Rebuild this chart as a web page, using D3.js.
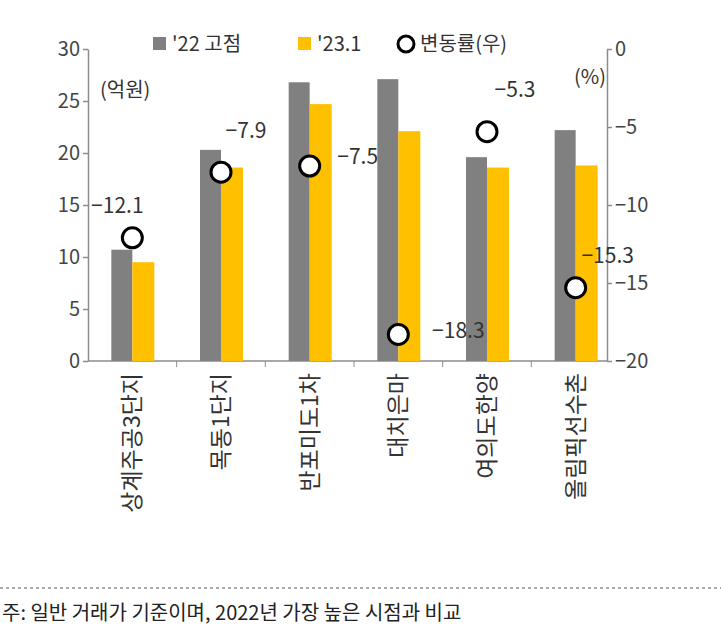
<!DOCTYPE html>
<html><head><meta charset="utf-8">
<script src="https://cdn.jsdelivr.net/npm/d3@7"></script>
<style>body{margin:0;background:#fff}text{font-family:"Noto Sans CJK KR","Noto Sans",sans-serif}</style>
</head><body><div class="root"></div>
<script>
const categories = ['상계주공3단지', '목동1단지', '반포미도1차', '대치은마', '여의도한양', '올림픽선수촌']
const peak22 = [10.7, 20.3, 26.8, 27.1, 19.6, 22.2]
const jan23 = [9.5, 18.6, 24.7, 22.1, 18.6, 18.8]
const changeRate = [-12.1, -7.9, -7.5, -18.3, -5.3, -15.3]
const leftTicks = [0, 5, 10, 15, 20, 25, 30]
const rightTicks = [0, -5, -10, -15, -20]
// label offsets (dx, dy) from each circle
const labelOffsets = [[-15, -30], [25, -40], [48, -8], [60, -2], [28, -40], [32, -30]]

const svg = d3.select('.root').append('svg').attr('width', 721).attr('height', 634)
const x = d3.scaleBand().domain(categories).range([88, 620])
const yL = d3.scaleLinear().domain([0, 30]).range([361, 49])
const yR = d3.scaleLinear().domain([-20, 0]).range([361, 49])
const grey = '#808080', gold = '#ffc000', axisCol = '#8c8c8c'
const barW = 21

const styleAxis = g => {
  g.selectAll('path,line').attr('stroke', axisCol).attr('stroke-width', 1.5)
  g.selectAll('text').attr('fill', '#444').attr('font-size', 20)
}

svg.append('g').attr('transform', 'translate(88,0)')
  .call(d3.axisLeft(yL).tickValues(leftTicks).tickSize(5).tickSizeOuter(0)).call(styleAxis)
svg.append('g').attr('transform', 'translate(607,0)')
  .call(d3.axisRight(yR).tickValues(rightTicks).tickSize(5).tickSizeOuter(0)
    .tickFormat(d => d === 0 ? '0' : '\u2212' + Math.abs(d))).call(styleAxis)
svg.append('line').attr('x1', 88).attr('x2', 607).attr('y1', 361).attr('y2', 361)
  .attr('stroke', axisCol).attr('stroke-width', 1.5)
// category tick marks between bands
svg.append('g').selectAll('line').data(categories.slice(1)).join('line')
  .attr('x1', d => x(d)).attr('x2', d => x(d)).attr('y1', 361).attr('y2', 367).attr('stroke', axisCol)

const cx = d => x(d) + x.bandwidth() / 2
svg.append('g').selectAll('rect').data(categories).join('rect')
  .attr('x', d => cx(d) - barW).attr('width', barW)
  .attr('y', (d, i) => yL(peak22[i])).attr('height', (d, i) => 361 - yL(peak22[i])).attr('fill', grey)
svg.append('g').selectAll('rect').data(categories).join('rect')
  .attr('x', d => cx(d)).attr('width', barW + 1)
  .attr('y', (d, i) => yL(jan23[i])).attr('height', (d, i) => 361 - yL(jan23[i])).attr('fill', gold)

svg.append('g').selectAll('circle').data(categories).join('circle')
  .attr('cx', d => cx(d)).attr('cy', (d, i) => yR(changeRate[i])).attr('r', 10)
  .attr('fill', '#fff').attr('stroke', '#000').attr('stroke-width', 3)
svg.append('g').selectAll('text').data(categories).join('text')
  .attr('x', (d, i) => cx(d) + labelOffsets[i][0]).attr('y', (d, i) => yR(changeRate[i]) + labelOffsets[i][1])
  .attr('text-anchor', 'middle').attr('dominant-baseline', 'middle').attr('font-size', 21).attr('fill', '#333')
  .text((d, i) => '\u2212' + Math.abs(changeRate[i]))

svg.append('g').selectAll('text').data(categories).join('text')
  .attr('transform', d => `translate(${cx(d) + 8},373) rotate(-90)`)
  .attr('text-anchor', 'end').attr('font-size', 23).attr('fill', '#333').text(d => d)

svg.append('text').attr('x', 100).attr('y', 97).attr('font-size', 20).attr('fill', '#333').text('(억원)')
svg.append('text').attr('x', 574).attr('y', 84).attr('font-size', 20).attr('fill', '#333').text('(%)')

// legend
const lg = svg.append('g').attr('font-size', 20).attr('fill', '#333')
lg.append('rect').attr('x', 153).attr('y', 37).attr('width', 13).attr('height', 13).attr('fill', grey)
lg.append('text').attr('x', 172).attr('y', 51).text("'22 고점")
lg.append('rect').attr('x', 298).attr('y', 37).attr('width', 13).attr('height', 13).attr('fill', gold)
lg.append('text').attr('x', 317).attr('y', 51).text("'23.1")
lg.append('circle').attr('cx', 406).attr('cy', 44).attr('r', 8).attr('fill', '#fff').attr('stroke', '#000').attr('stroke-width', 3)
lg.append('text').attr('x', 420).attr('y', 51).text('변동률(우)')

svg.append('line').attr('x1', 0).attr('x2', 721).attr('y1', 588).attr('y2', 588)
  .attr('stroke', '#555').attr('stroke-dasharray', '3,3')
svg.append('text').attr('x', 2).attr('y', 620).attr('font-size', 20).attr('fill', '#222')
  .text('주: 일반 거래가 기준이며, 2022년 가장 높은 시점과 비교')
</script></body></html>
